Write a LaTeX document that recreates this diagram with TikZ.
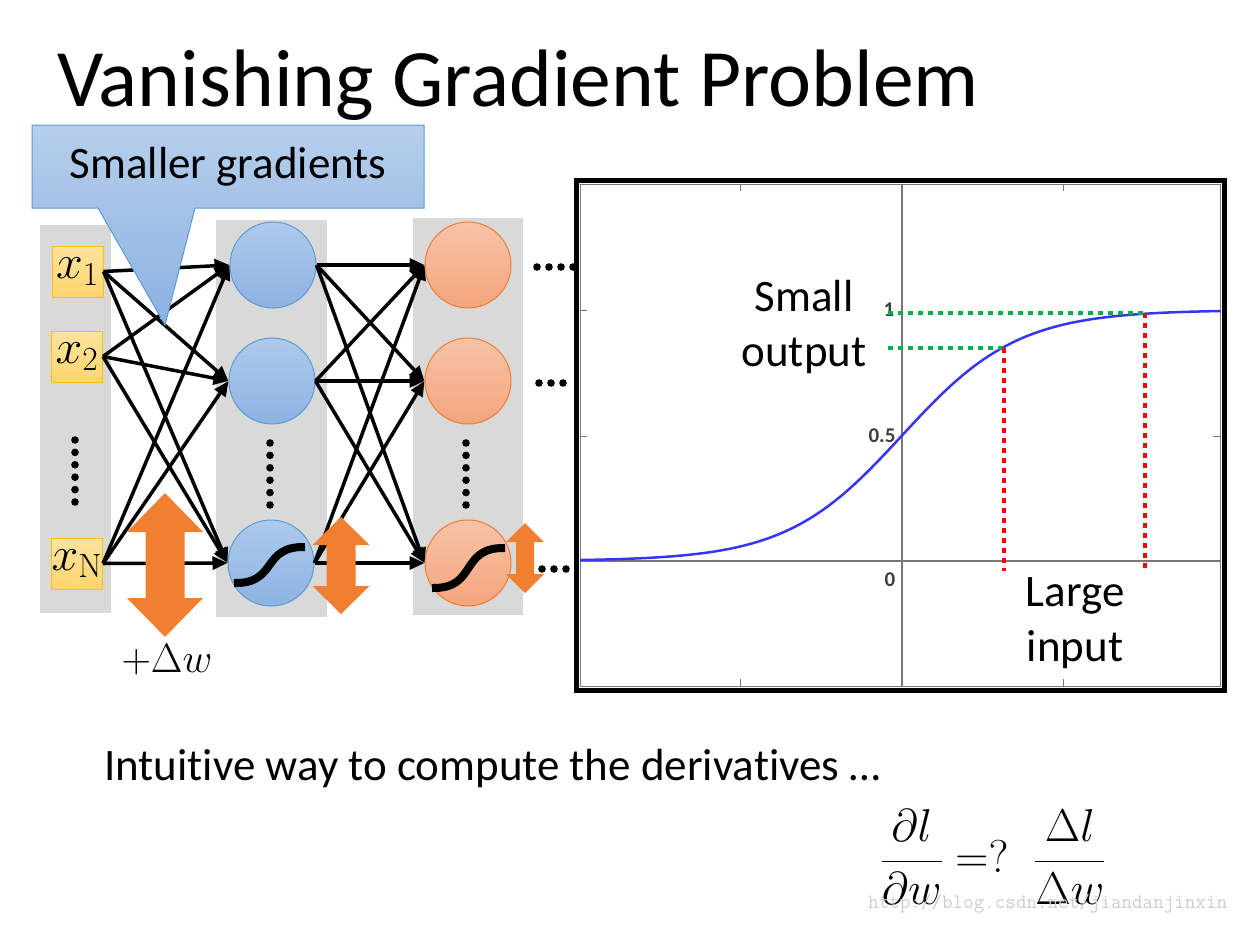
\RequirePackage{fix-cm}
\documentclass[tikz,border=0pt]{standalone}
\usepackage[no-math]{fontspec}
\setmainfont{Carlito}[Ligatures=NoCommon]
\usepackage{xcolor}
\usepackage{tikz}
\usetikzlibrary{arrows.meta}
\definecolor{VGColBg}{HTML}{D9D9D9}
\definecolor{VGInTop}{HTML}{FFE49E}
\definecolor{VGInBot}{HTML}{FFD46E}
\definecolor{VGInLine}{HTML}{FFC000}
\definecolor{VGHidTop}{HTML}{AECAEB}
\definecolor{VGHidBot}{HTML}{8DB3E2}
\definecolor{VGHidLine}{HTML}{5B9BD5}
\definecolor{VGOutTop}{HTML}{F8C3A8}
\definecolor{VGOutBot}{HTML}{F4A57C}
\definecolor{VGOutLine}{HTML}{ED7D31}
\definecolor{VGOrange}{HTML}{F07F30}
\definecolor{VGCallTop}{HTML}{B6CEEB}
\definecolor{VGCallBot}{HTML}{8BB2E1}
\definecolor{VGAxis}{HTML}{777777}
\definecolor{VGBlue}{HTML}{3535F2}
\definecolor{VGGreen}{HTML}{00B050}
\definecolor{VGRed}{HTML}{FF0000}
\definecolor{VGMark}{HTML}{CDCDCD}

% up-down arrow: x, top, bottom, head half width, shaft half width, head length
\newcommand{\updown}[6]{%
  \fill[VGOrange] (#1,#2) -- ({#1+#4},{#2+#6}) -- ({#1+#5},{#2+#6}) -- ({#1+#5},{#3-#6})
    -- ({#1+#4},{#3-#6}) -- (#1,#3) -- ({#1-#4},{#3-#6}) -- ({#1-#5},{#3-#6})
    -- ({#1-#5},{#2+#6}) -- ({#1-#4},{#2+#6}) -- cycle;}

\begin{document}
\begin{tikzpicture}[x=1pt,y=-1pt,
  inbox/.style={draw=VGInLine,line width=1pt,top color=VGInTop,bottom color=VGInBot,
    minimum width=51pt,minimum height=51pt,inner sep=0pt,font=\fontsize{48}{48}\selectfont},
  hid/.style={circle,draw=VGHidLine,line width=1pt,top color=VGHidTop,bottom color=VGHidBot,
    minimum size=86pt,inner sep=0pt},
  outn/.style={circle,draw=VGOutLine,line width=1pt,top color=VGOutTop,bottom color=VGOutBot,
    minimum size=86pt,inner sep=0pt},
  conn/.style={line width=3.5pt,-{Triangle[length=15pt,width=13pt]}},
  sig/.style={line width=8pt},
  bigtext/.style={font=\fontsize{45}{55}\selectfont,align=center,inner sep=0pt},
  ticklbl/.style={font=\fontsize{21}{21}\selectfont\bfseries,text=black!75,inner sep=0pt},
  gdot/.style={VGGreen,line width=4.5pt,dash pattern=on 5pt off 5pt},
  rdot/.style={VGRed,line width=4.5pt,dash pattern=on 5pt off 5pt}]
\path[use as bounding box] (0,0) rectangle (1248,924);

% title
\node[anchor=base west,inner sep=0pt,font=\fontsize{81.5}{90}\selectfont] (title) at (57,106) {Vanishing Gradient Problem};

% layer backgrounds
\fill[VGColBg] (40,225) rectangle (111,613);
\fill[VGColBg] (216,220) rectangle (327,617);
\fill[VGColBg] (413,218) rectangle (523,615);

% nodes
\node[inbox] (in1) at (77.5,271.5) {$x_1$};
\node[inbox] (in2) at (77,356.5) {$x_2$};
\node[inbox] (inN) at (77,563.5) {$x_{\mathrm{N}}$};
\node[hid] (h1) at (273,265) {};
\node[hid] (h2) at (272,381) {};
\node[hid] (h3) at (271,563) {};
\node[outn] (o1) at (468,265) {};
\node[outn] (o2) at (468,381) {};
\node[outn] (o3) at (468,563) {};

% connections
\foreach \a in {in1,in2,inN}
  \foreach \b in {h1,h2,h3}
    \draw[conn] (\a.east) -- (\b.west);
\foreach \a in {h1,h2,h3}
  \foreach \b in {o1,o2,o3}
    \draw[conn] (\a.east) -- (\b.west);

% vertical dots
\foreach \cx/\cy in {75/440,270/443,466/443}
  \foreach \i in {0,...,5}
    \fill ({\cx},{\cy+\i*12.4}) circle (3.8);
% horizontal dots
\foreach \dx in {537,549,561,573} \fill (\dx,267) circle (3.8);
\foreach \dx in {539,551,563} \fill (\dx,383) circle (3.8);
\foreach \dx in {542,554,566} \fill (\dx,569) circle (3.8);

% activation glyphs
\draw[sig] ([shift={(-37,20)}]h3.center) .. controls +(44,1) and +(-44,-1) .. ([shift={(34,-16)}]h3.center);
\draw[sig] ([shift={(-36,25)}]o3.center) .. controls +(46,1) and +(-46,-1) .. ([shift={(37,-15)}]o3.center);

% weight change arrows
\updown{165}{493}{637}{38}{19.5}{39}
\updown{341}{517}{614}{28.5}{14.5}{28}
\updown{525}{523}{593}{19}{9}{19}
\node[font=\fontsize{41}{41}\selectfont] (dw) at (167,660) {$+\Delta w$};

% callout
\shade[top color=VGCallTop,bottom color=VGCallBot,draw=VGHidLine,line width=1pt]
  (32,125) -- (424,125) -- (424,208) -- (195,208) -- (165,325) -- (98,208) -- (32,208) -- cycle;
\node[bigtext] (callout) at (228,167) {Smaller gradients};

% sigmoid chart
\draw[VGAxis,line width=1pt] (580,184) rectangle (1220,686);
\draw[VGAxis,line width=1.5pt] (902,184) -- (902,686);
\draw[VGAxis,line width=1.5pt] (580,561) -- (1220,561);
\foreach \t in {740,1063} {
  \draw[VGAxis,line width=1pt] (\t,184) -- (\t,191);
  \draw[VGAxis,line width=1pt] (\t,686) -- (\t,679);
}
\foreach \t in {310,436} {
  \draw[VGAxis,line width=1pt] (580,\t) -- (587,\t);
  \draw[VGAxis,line width=1pt] (1220,\t) -- (1213,\t);
}
\node[ticklbl] (t1) at (889,310) {1};
\node[ticklbl] (t05) at (882,436) {0.5};
\node[ticklbl] (t0) at (890,580) {0};
\draw[VGBlue,line width=2.5pt] plot[domain=-5.55:5.5,samples=120] ({902+58*\x},{561-251/(1+exp(-\x))});
\coordinate (p1) at (1004,348);
\coordinate (p2) at (1145,313);
\draw[gdot] (888,313) -- (p2);
\draw[gdot] (888,348) -- (p1);
\draw[rdot] (p1) -- (1004,571);
\draw[rdot] (p2) -- (1145,573);
\draw[line width=5pt] (576,180) rectangle (1224,690);
\node[bigtext] (small) at (804,327) {Small\\output};
\node[bigtext] (large) at (1075,623) {Large\\input};

% bottom line
\node[anchor=base west,inner sep=0pt,font=\fontsize{45}{50}\selectfont] (intuit) at (104,780) {Intuitive way to compute the derivatives …};
\node[font=\fontsize{46}{54}\selectfont] (deriv) at (993,857) {$\displaystyle\frac{\partial l}{\partial w} =?\;\; \frac{\Delta l}{\Delta w}$};
\node[anchor=base west,inner sep=0pt,font=\ttfamily\fontsize{20.5}{20}\selectfont,text=VGMark] (mark) at (868,908) {http://blog.csdn.net/jiandanjinxin};
\end{tikzpicture}
\end{document}
